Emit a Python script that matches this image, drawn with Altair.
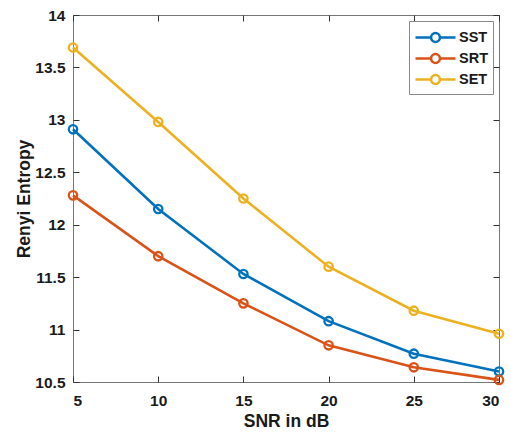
import altair as alt
import pandas as pd

snr = [5, 10, 15, 20, 25, 30]
sst = [12.91, 12.15, 11.53, 11.08, 10.77, 10.60]
srt = [12.28, 11.70, 11.25, 10.85, 10.64, 10.52]
set_vals = [13.69, 12.98, 12.25, 11.60, 11.18, 10.96]
series_names = ["SST", "SRT", "SET"]
series_colors = ["#0072BD", "#D95319", "#EDB120"]
x_ticks = [5, 10, 15, 20, 25, 30]
y_ticks = [10.5, 11, 11.5, 12, 12.5, 13, 13.5, 14]

rows = []
for name, vals in zip(series_names, [sst, srt, set_vals]):
    for x, y in zip(snr, vals):
        rows.append({"SNR": x, "Entropy": y, "Series": name})
df = pd.DataFrame(rows)

FONT = "Liberation Sans"
TXT = "#1a1a1a"
TICK = "#333333"

xscale = alt.Scale(domain=[5, 30], nice=False, zero=False)
yscale = alt.Scale(domain=[10.5, 14], nice=False, zero=False)

legend_path = "M-1,0L0.56,0M1.44,0L3,0M0.56,0A0.44,0.44,0,1,0,1.44,0A0.44,0.44,0,1,0,0.56,0"

common_axis = dict(
    grid=True, gridDash=[6, 2000], gridColor=TICK, gridWidth=1, gridOpacity=1,
    ticks=False, domain=False,
    labelFont=FONT, labelFontSize=15.5, labelFontWeight="bold", labelColor=TXT,
    titleFont=FONT, titleFontSize=17.5, titleFontWeight="bold", titleColor=TXT,
)

main = alt.Chart(df).mark_line(
    strokeWidth=2.6,
    point=alt.OverlayMarkDef(filled=False, size=70, strokeWidth=2.3),
).encode(
    x=alt.X("SNR:Q", scale=xscale,
            axis=alt.Axis(values=x_ticks, title="SNR in dB", labelPadding=11,
                          titlePadding=4, format="~g", **common_axis)),
    y=alt.Y("Entropy:Q", scale=yscale,
            axis=alt.Axis(values=y_ticks, title="Renyi Entropy", labelPadding=8,
                          titlePadding=1, format="~g", **common_axis)),
    color=alt.Color("Series:N",
                    scale=alt.Scale(domain=series_names, range=series_colors),
                    legend=alt.Legend(
                        title=None, orient="none", legendX=336, legendY=6,
                        symbolType=legend_path, symbolSize=400,
                        symbolStrokeWidth=2.5, symbolFillColor="transparent",
                        labelFont=FONT, labelFontSize=14.5, labelFontWeight="bold",
                        labelColor=TXT, labelOffset=22,
                        strokeColor="#888888", fillColor="white", padding=5,
                        rowPadding=0)),
)

frame_axis = dict(common_axis)
frame_axis.update(labels=False, title=None)

frame = alt.Chart(df).mark_point(opacity=0).encode(
    x=alt.X("SNR:Q", scale=xscale, axis=alt.Axis(orient="top", values=x_ticks, **frame_axis)),
    y=alt.Y("Entropy:Q", scale=yscale, axis=alt.Axis(orient="right", values=y_ticks, **frame_axis)),
)

chart = alt.layer(main, frame).resolve_scale(
    x="independent", y="independent"
).properties(
    width=426, height=367,
    autosize=alt.AutoSizeParams(type="none"),
    padding={"left": 73, "top": 15, "right": 12, "bottom": 52},
    background="white",
).configure_view(stroke="#777777", strokeWidth=1)

chart.save("out.html", embed_options={"renderer": "svg", "actions": False})
